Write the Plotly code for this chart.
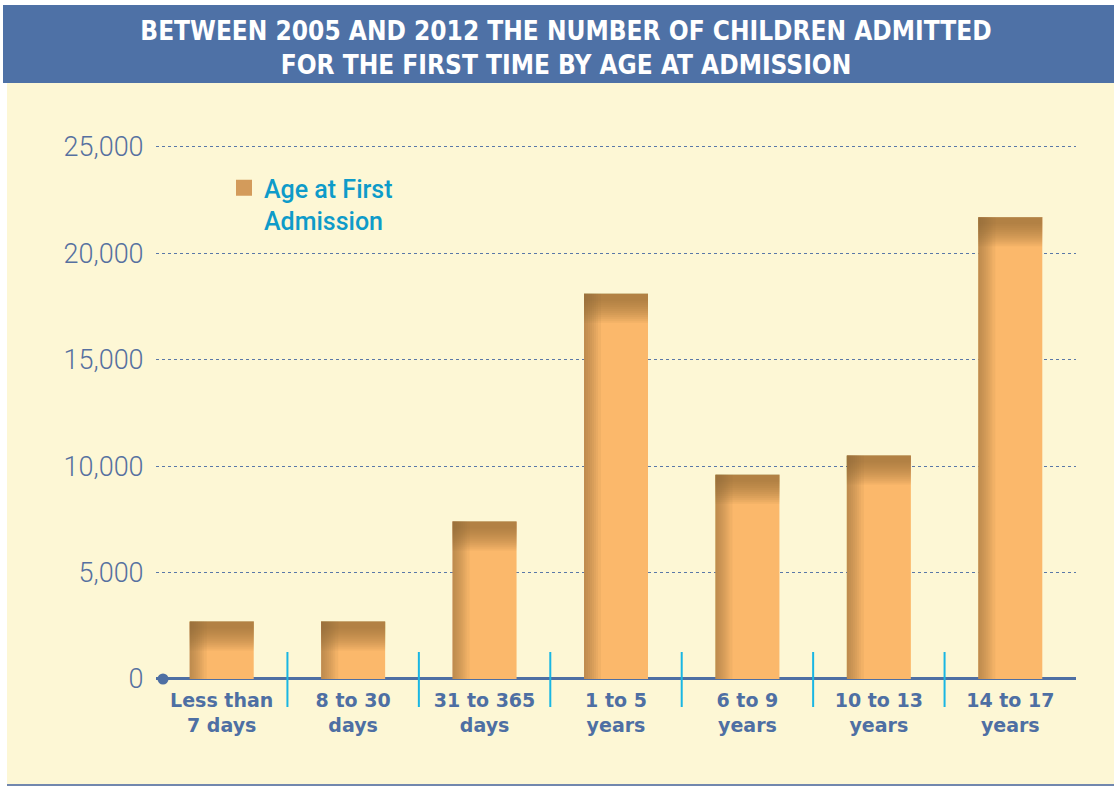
import plotly.graph_objects as go

# ---- data ----
categories = ["Less than<br>7 days", "8 to 30<br>days", "31 to 365<br>days",
              "1 to 5<br>years", "6 to 9<br>years", "10 to 13<br>years",
              "14 to 17<br>years"]
values = [2700, 2700, 7400, 18100, 9600, 10500, 21700]
y_ticks = [0, 5000, 10000, 15000, 20000, 25000]
series_name = "Age at First<br>Admission"
title_text = ("BETWEEN 2005 AND 2012 THE NUMBER OF CHILDREN ADMITTED<br>"
              "FOR THE FIRST TIME BY AGE AT ADMISSION")

# ---- style ----
W, H = 1114, 786
ORANGE = "#FBB86B"
SHADE = "rgba(140,100,55,{a})"
BLUE = "#4E6FA3"
BAND = "#4E71A6"
CREAM = "#FDF7D5"
CYAN = "#19B6E3"
LEG = "#0E9BC9"
FONT = "Roboto"

y_top_val = 25000
units_per_px = y_top_val / (679 - 147)
y_max = 25150
x_dom = [156 / W, 1076 / W]
y_dom = [1 - 679 / H, 1 - (147 - (y_max - y_top_val) / units_per_px) / H]
bar_w = 0.487

fig = go.Figure()
fig.add_trace(go.Bar(x=categories, y=values, marker=dict(color=ORANGE, line=dict(width=0)),
                     width=bar_w, showlegend=False, name="Age at First Admission"))

# top shading (derived from values)
top_px = [7, 9, 11, 13, 15, 17, 19, 21, 23, 25, 27, 29]
a_top = 0.077
for d in top_px:
    h = d * units_per_px
    fig.add_trace(go.Bar(x=categories, y=[h] * len(values), base=[v - h for v in values],
                         width=bar_w, marker=dict(color=SHADE.format(a=a_top), line=dict(width=0)),
                         showlegend=False, hoverinfo="skip"))
# left shading
left_px = [2, 4, 6, 8, 10, 12, 14, 17]
a_left = 0.088
band_px = (1076 - 156) / len(categories)
for d in left_px:
    w = d / band_px
    fig.add_trace(go.Bar(x=categories, y=values, width=w, offset=-bar_w / 2,
                         marker=dict(color=SHADE.format(a=a_left), line=dict(width=0)),
                         showlegend=False, hoverinfo="skip"))

# legend entry
fig.add_trace(go.Scatter(x=[None], y=[None], mode="markers", name=series_name,
                         marker=dict(symbol="square", size=20, color="#D39B5B"),
                         showlegend=True))

shapes = [
    dict(type="rect", xref="paper", yref="paper", x0=7 / W, x1=1, y0=1 - 784 / H, y1=1 - 82 / H,
         fillcolor=CREAM, line=dict(width=0), layer="below"),
    dict(type="rect", xref="paper", yref="paper", x0=3 / W, x1=1, y0=1 - 83 / H, y1=1 - 5 / H,
         fillcolor=BAND, line=dict(width=0), layer="below"),
    dict(type="line", xref="paper", yref="paper", x0=7 / W, x1=1, y0=1 - 785 / H, y1=1 - 785 / H,
         line=dict(color="#7187AE", width=2), layer="below"),
    dict(type="circle", xref="paper", yref="paper", xsizemode="pixel", ysizemode="pixel",
         xanchor=163 / W, yanchor=1 - 679 / H, x0=-5.5, x1=5.5, y0=-5.5, y1=5.5,
         fillcolor=BLUE, line=dict(width=0)),
]
for i in range(len(categories) - 1):
    shapes.append(dict(type="line", xref="x", yref="paper", x0=i + 0.5, x1=i + 0.5,
                       y0=1 - 707 / H, y1=1 - 652 / H, line=dict(color=CYAN, width=2)))

fig.update_layout(
    width=W, height=H,
    autosize=False,
    margin=dict(l=0, r=0, t=0, b=0, pad=0, autoexpand=False),
    paper_bgcolor="white", plot_bgcolor="rgba(0,0,0,0)",
    barmode="overlay",
    shapes=shapes,
    title=dict(text=title_text, x=566 / W, xanchor="center", y=1 - 40 / H, yanchor="middle",
               font=dict(family="DejaVu Sans Condensed", size=26, color="white", weight="bold")),
    legend=dict(x=224 / W, y=1 - 165 / H, xanchor="left", yanchor="top",
                bgcolor="rgba(0,0,0,0)", valign="top",
                font=dict(family=FONT, size=25, color=LEG, weight=500),
                itemwidth=30, tracegroupgap=0),
    xaxis=dict(domain=x_dom, type="category", showgrid=False, zeroline=False, showline=False,
               automargin=False,
               ticks="outside", ticklen=4, tickcolor="rgba(0,0,0,0)",
               tickfont=dict(family="DejaVu Sans", size=19, color=BLUE, weight="bold"),
               fixedrange=True),
    yaxis=dict(domain=y_dom, range=[0, y_max], tickvals=y_ticks, tickformat=",",
               automargin=False,
               showgrid=True, gridcolor="#5A78A8", griddash="dot", gridwidth=1,
               zeroline=True, zerolinecolor=BLUE, zerolinewidth=3,
               ticks="outside", ticklen=6, tickcolor="rgba(0,0,0,0)",
               tickfont=dict(family=FONT, size=27, color="#5670A0", weight=300),
               fixedrange=True),
)

fig.write_html("out.html")
